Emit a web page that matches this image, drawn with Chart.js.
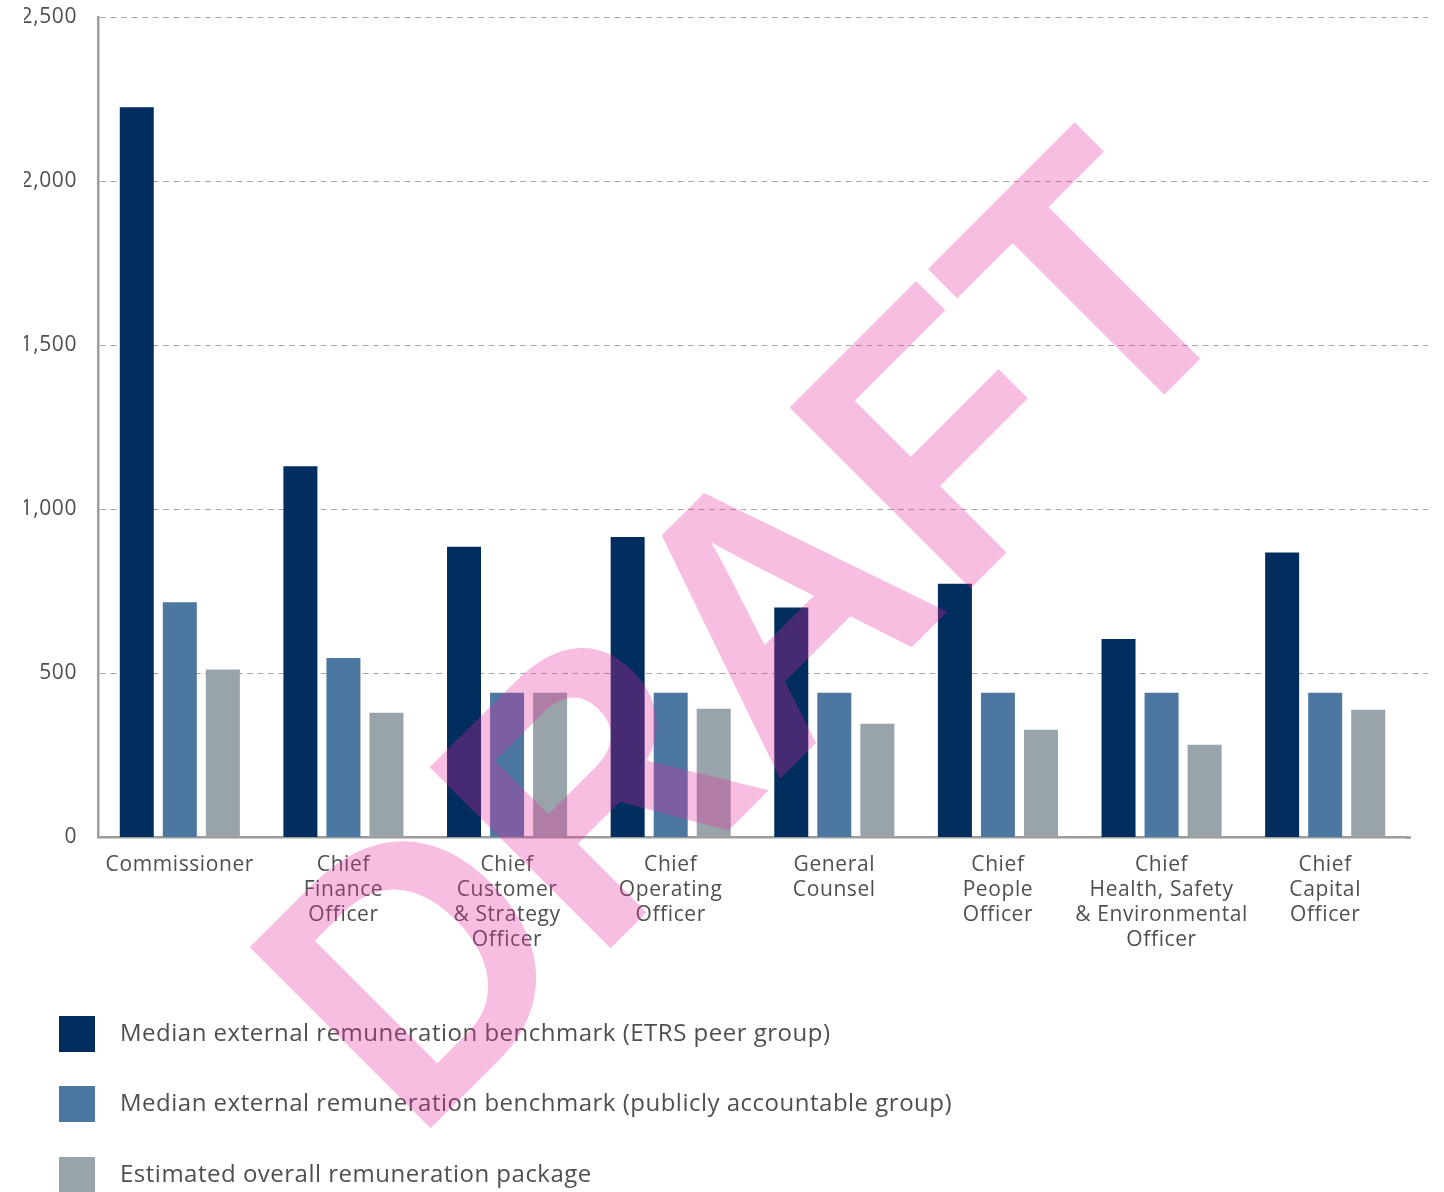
<!DOCTYPE html>
<html>
<head>
<meta charset="utf-8">
<script src="https://cdn.jsdelivr.net/npm/chart.js@4.4.1/dist/chart.umd.min.js"></script>
<style>
  html, body { margin: 0; padding: 0; background: #ffffff; }
  #wrap { position: relative; width: 1444px; height: 1192px; }
</style>
</head>
<body>
<div id="wrap"><canvas id="c"></canvas></div>
<script>
// ---- data ----
const categories = [
  ["Commissioner"],
  ["Chief", "Finance", "Officer"],
  ["Chief", "Customer", "& Strategy", "Officer"],
  ["Chief", "Operating", "Officer"],
  ["General", "Counsel"],
  ["Chief", "People", "Officer"],
  ["Chief", "Health, Safety", "& Environmental", "Officer"],
  ["Chief", "Capital", "Officer"]
];
const seriesNames = [
  "Median external remuneration benchmark (ETRS peer group)",
  "Median external remuneration benchmark (publicly accountable group)",
  "Estimated overall remuneration package"
];
const etrsPeer = [2225, 1130, 885, 915, 700, 772, 604, 867];
const publiclyAccountable = [716, 546, 440, 440, 440, 440, 440, 440];
const overallPackage = [511, 379, 440, 391, 345, 327, 281, 388];
const yTicks = [0, 500, 1000, 1500, 2000, 2500];
const watermarkText = "DRAFT";

const colors = ["#012d5f", "#4c77a1", "#99a3aa"];
const FONT = '"Open Sans", "Liberation Sans", sans-serif';
const TEXT = "#4f4f4f";

const spacingPlugin = {
  id: "spacing",
  beforeDraw(chart) { chart.ctx.letterSpacing = "0.6px"; }
};

const gridPlugin = {
  id: "extGrid",
  beforeDatasetsDraw(chart) {
    const { ctx, chartArea } = chart;
    const y = chart.scales.y;
    ctx.save();
    ctx.strokeStyle = "#a6a6a6";
    ctx.lineWidth = 1;
    ctx.setLineDash([6, 4.5]);
    yTicks.forEach(v => {
      if (v === 0) return;
      const py = Math.round(y.getPixelForValue(v)) + 0.5;
      ctx.beginPath();
      ctx.moveTo(chartArea.left + 2, py);
      ctx.lineTo(chartArea.right + 21, py);
      ctx.stroke();
    });
    ctx.restore();
  }
};

const legendPlugin = {
  id: "customLegend",
  afterDraw(chart) {
    const { ctx } = chart;
    ctx.save();
    ctx.letterSpacing = "0.5px";
    const tops = [1016, 1086, 1157];
    chart.data.datasets.forEach((ds, i) => {
      ctx.fillStyle = ds.backgroundColor;
      ctx.fillRect(59, tops[i], 36, 36);
      ctx.fillStyle = TEXT;
      ctx.font = "24px " + FONT;
      ctx.textAlign = "left";
      ctx.textBaseline = "middle";
      ctx.fillText(ds.label, 120, tops[i] + 18);
    });
    const ca = chart.chartArea;
    ctx.strokeStyle = "#9c9c9c";
    ctx.lineWidth = 2.5;
    ctx.beginPath();
    ctx.moveTo(ca.right - 1, ca.bottom + 0.5);
    ctx.lineTo(ca.right + 4, ca.bottom + 0.5);
    ctx.stroke();
    ctx.restore();
  }
};

const watermarkPlugin = {
  id: "watermark",
  afterDraw(chart) {
    const { ctx } = chart;
    ctx.save();
    ctx.letterSpacing = "0px";
    ctx.globalAlpha = 0.3;
    ctx.fillStyle = "rgb(232,40,160)";
    ctx.translate(414, 1145);
    ctx.rotate(-Math.PI / 4);
    ctx.scale(0.99, 1.045);
    ctx.font = 'bold 356px "Liberation Sans", Arial, sans-serif';
    ctx.textAlign = "left";
    ctx.textBaseline = "alphabetic";
    ctx.fillText(watermarkText, 0, 0);
    ctx.restore();
  }
};

new Chart(document.getElementById("c"), {
  type: "bar",
  data: {
    labels: categories,
    datasets: [
      { label: seriesNames[0], data: etrsPeer, backgroundColor: colors[0] },
      { label: seriesNames[1], data: publiclyAccountable, backgroundColor: colors[1] },
      { label: seriesNames[2], data: overallPackage, backgroundColor: colors[2] }
    ]
  },
  options: {
    responsive: true,
    maintainAspectRatio: false,
    animation: false,
    datasets: { bar: { categoryPercentage: 0.789, barPercentage: 0.79 } },
    layout: { padding: { left: 24, right: 37, top: 0, bottom: 0 } },
    plugins: { legend: { display: false }, tooltip: { enabled: false } },
    scales: {
      x: {
        offset: true,
        grid: { display: false, drawTicks: false },
        border: { display: true, color: "#9c9c9c", width: 2.5 },
        ticks: {
          autoSkip: false, maxRotation: 0, minRotation: 0, padding: 16,
          color: TEXT, font: { family: FONT, size: 21, lineHeight: 1.19 }
        },
        afterFit(s) { s.height = 355; }
      },
      y: {
        min: 0, max: 2500,
        afterBuildTicks(s) { s.ticks = yTicks.map(v => ({ value: v })); },
        grid: { display: false, drawTicks: false },
        border: { display: true, color: "#9c9c9c", width: 2.5 },
        ticks: {
          padding: 21, color: TEXT,
          font: { family: FONT, size: 21 },
          callback: v => v.toLocaleString("en-US")
        },
        afterFit(s) { s.width = 74; s.paddingTop = 17; s.paddingBottom = 0; }
      }
    }
  },
  plugins: [spacingPlugin, gridPlugin, legendPlugin, watermarkPlugin]
});
</script>
</body>
</html>
